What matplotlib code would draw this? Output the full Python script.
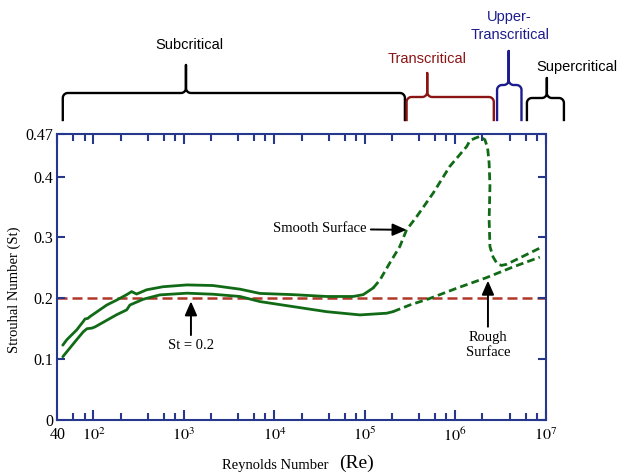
import numpy as np
import matplotlib.pyplot as plt

plt.rcParams['font.family'] = 'serif'
plt.rcParams['font.serif'] = ['Liberation Serif', 'DejaVu Serif']
plt.rcParams['mathtext.fontset'] = 'stix'

# ---- data ----
# smooth surface curve (solid up to smooth_split, dashed after)
smooth_re = [46, 51, 65.5, 77.5, 81, 87, 92, 141, 181, 234, 265, 301, 389, 589,
             1080, 2100, 4180, 6950, 16200, 37900, 74600, 96200, 124000,
             147000, 189000, 244000, 290000, 374000, 571000, 873000, 1.34e6,
             1.45e6, 1.65e6, 1.87e6, 2.13e6, 2.28e6, 2.37e6, 2.42e6, 2.37e6,
             2.42e6, 2.62e6, 2.9e6, 3.25e6, 3.72e6, 8.6e6]
smooth_st = [0.123, 0.132, 0.148, 0.162, 0.166, 0.167, 0.170, 0.189, 0.197, 0.206,
             0.211, 0.207, 0.214, 0.219, 0.222, 0.221, 0.215, 0.208, 0.206, 0.203,
             0.203, 0.206, 0.217, 0.230, 0.258, 0.285, 0.3125, 0.334, 0.373,
             0.417, 0.4495, 0.459, 0.463, 0.466, 0.4605, 0.447, 0.422, 0.384,
             0.329, 0.285, 0.268, 0.257, 0.254, 0.256, 0.2825]
smooth_split = 124000

# rough surface curve (solid up to rough_split, dashed after)
rough_re = [46, 65.5, 77.5, 85, 96.6, 104.5, 181, 234, 254, 357, 545, 1080, 2100,
            4180, 6950, 16200, 37900, 88500, 175000, 205000, 315000, 525000,
            1.04e6, 2.22e6, 4.37e6, 8.6e6]
rough_st = [0.104, 0.132, 0.145, 0.150, 0.151, 0.153, 0.173, 0.181, 0.189, 0.1985,
            0.2056, 0.2084, 0.2067, 0.203, 0.1946, 0.1863, 0.178, 0.1727, 0.1755,
            0.178, 0.189, 0.1998, 0.2166, 0.234, 0.2516, 0.2676]
rough_split = 205000

st_ref = 0.2

# flow regimes along the top
regimes = ['Subcritical', 'Transcritical', 'Upper-\nTranscritical', 'Supercritical']
regime_start = [46, 2.9e5, 2.9e6, 6.2e6]
regime_end = [2.78e5, 2.67e6, 5.4e6, 1.59e7]
regime_peak = [1057, 4.9e5, 3.9e6, 1.03e7]

x_ticks = [40, 1e2, 1e3, 1e4, 1e5, 1e6, 1e7]
x_labels = ['40', '$10^2$', '$10^3$', '$10^4$', '$10^5$', '$10^6$', '$10^7$']
y_ticks = [0, 0.1, 0.2, 0.3, 0.4, 0.47]
y_labels = ['0', '0.1', '0.2', '0.3', '0.4', '0.47']

# ---- figure ----
W, H = 619, 476
fig = plt.figure(figsize=(W / 100, H / 100), dpi=100)
ax = fig.add_axes([57.3 / W, 56 / H, 488.4 / W, 286 / H])

green = '#116b16'
navy = '#27378c'

def split_curve(re, st, split):
    re = np.array(re)
    st = np.array(st)
    i = int(np.searchsorted(re, split, side='right'))
    return re[:i], st[:i], re[i - 1:], st[i - 1:]

ax.axhline(st_ref, color='#b0392b', lw=1.8, ls=(0, (4, 2)), zorder=1)

for re, st, sp in [(smooth_re, smooth_st, smooth_split), (rough_re, rough_st, rough_split)]:
    r1, s1, r2, s2 = split_curve(re, st, sp)
    ax.plot(r1, s1, color=green, lw=2.0, solid_capstyle='round',
            solid_joinstyle='round', zorder=2)
    ax.plot(r2, s2, color=green, lw=2.0, ls=(0, (2.8, 1.5)), zorder=2)

ax.set_xscale('log')
ax.set_xlim(40, 1e7)
ax.set_ylim(0, 0.47)

ax.set_xticks(x_ticks)
ax.set_xticklabels(x_labels, fontsize=11.5)
minor = [m * 10 ** k for k in range(1, 7) for m in (2, 4, 6, 8) if 40 < m * 10 ** k < 1e7]
ax.set_xticks(minor, minor=True)
ax.set_xticklabels([], minor=True)
ax.set_yticks(y_ticks)
ax.set_yticklabels(y_labels, fontsize=11.5)

ax.tick_params(which='both', direction='in', top=True, right=True, color=navy, width=1.5)
ax.tick_params(axis='x', which='major', length=7.5, pad=5)
ax.tick_params(axis='x', which='minor', length=4.8)
ax.tick_params(axis='y', which='major', length=6, pad=3)
for s in ax.spines.values():
    s.set_color(navy)
    s.set_linewidth(1.5)

# annotations
akw = dict(arrowstyle='-|>,head_length=0.8,head_width=0.35', color='k', lw=1.4,
           shrinkA=1, shrinkB=0)
ax.annotate('Smooth Surface', xy=(2.9e5, 0.3125), xytext=(1.05e5, 0.314),
            ha='right', va='center', fontsize=10.5, arrowprops=akw)
ax.annotate('St = 0.2', xy=(1200, 0.195), xytext=(1200, 0.122),
            ha='center', va='center', fontsize=10.5, arrowprops=akw)
ax.annotate('Rough\nSurface', xy=(2.3e6, 0.229), xytext=(2.3e6, 0.123),
            ha='center', va='center', fontsize=10.5, linespacing=1.25, arrowprops=akw)

# overlay in pixel coordinates for braces and axis titles
ov = fig.add_axes([0, 0, 1, 1])
ov.set_xlim(0, W)
ov.set_ylim(H, 0)
ov.axis('off')
ov.patch.set_alpha(0)

def to_px(re):
    return ax.transData.transform((re, 0.2))[0]

def brace(xa, xb, xp, yh, yt, yb, r=5, c=5, n=12):
    t = np.linspace(np.pi, np.pi / 2, n)
    left = [(xa, yb)] + [(xa + r + r * np.cos(a), yh + r - r * np.sin(a)) for a in t]
    t2 = np.linspace(1.5 * np.pi, 2 * np.pi, n)
    cusp_l = [(xp - c + c * np.cos(a), yh - c - c * np.sin(a)) for a in t2]
    pts = left + cusp_l + [(xp, yt)]
    # mirror for right side
    t3 = np.linspace(np.pi, 1.5 * np.pi, n)
    cusp_r = [(xp + c + c * np.cos(a), yh - c - c * np.sin(a)) for a in t3]
    t4 = np.linspace(np.pi / 2, 0, n)
    right = [(xb - r + r * np.cos(a), yh + r - r * np.sin(a)) for a in t4] + [(xb, yb)]
    pts = pts + [(xp, yh - c)] + cusp_r + right
    return np.array(pts)

brace_style = [  # (horizontal y, peak y, colour, label x offset, label y)
    (93, 65, 'black', 3, 45),
    (97, 73, '#8b1515', 0, 59),
    (85, 51, '#1c1c8e', 1, 26),
    (98, 78, 'black', 30, 67),
]
for name, a, b, p, (yh, yt, col, dx, ly) in zip(regimes, regime_start, regime_end,
                                                 regime_peak, brace_style):
    pts = brace(to_px(a), to_px(b), to_px(p), yh, yt, 120)
    ov.plot(pts[:, 0], pts[:, 1], color=col, lw=1.7, solid_joinstyle='round')
    ov.text(to_px(p) + dx, ly, name, color=col, ha='center', va='center',
            fontsize=10.5, family='Liberation Sans', linespacing=1.3)

ov.text(14, 290, 'Strouhal Number (St)', rotation=90, ha='center', va='center',
        fontsize=10.5)
ov.text(275, 465, 'Reynolds Number', ha='center', va='center', fontsize=10.5)
ov.text(356, 463, '(Re)', ha='center', va='center', fontsize=14)

fig.savefig('out.png', dpi=100)
